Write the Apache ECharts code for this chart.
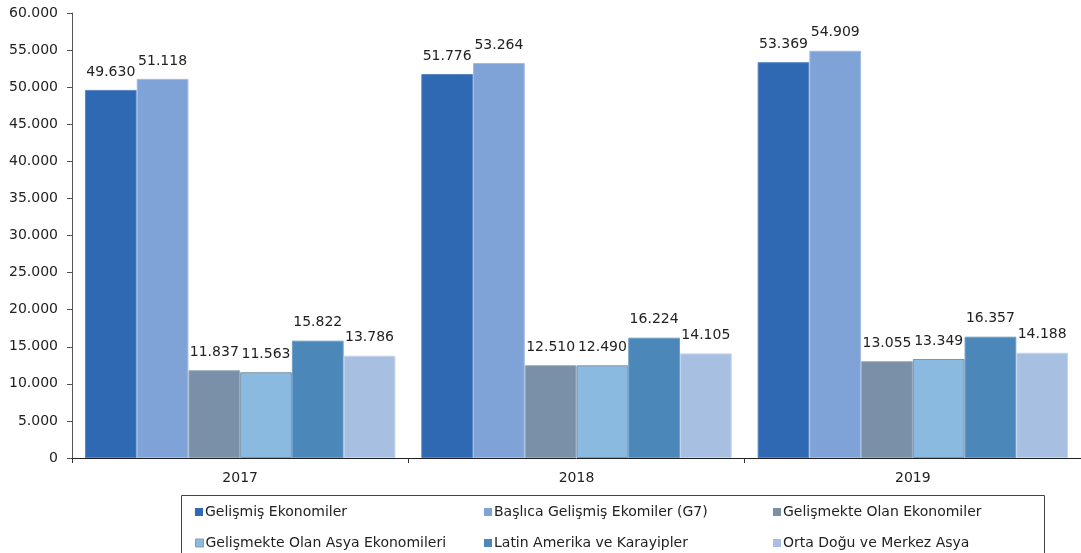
<!DOCTYPE html>
<html><head><meta charset="utf-8">
<script src="https://cdn.jsdelivr.net/npm/echarts@6/dist/echarts.min.js"></script>
<style>html,body{margin:0;padding:0;background:#fff}#c{width:1081px;height:553px}</style>
</head><body><div id="c"></div>
<script>
const categories = ['2017', '2018', '2019'];
const seriesNames = ['Gelişmiş Ekonomiler', 'Başlıca Gelişmiş Ekomiler (G7)', 'Gelişmekte Olan Ekonomiler',
  'Gelişmekte Olan Asya Ekonomileri', 'Latin Amerika ve Karayipler', 'Orta Doğu ve Merkez Asya'];
const gelismis = [49630, 51776, 53369];
const g7 = [51118, 53264, 54909];
const gelismekte = [11837, 12510, 13055];
const asya = [11563, 12490, 13349];
const latin = [15822, 16224, 16357];
const ortaDogu = [13786, 14105, 14188];
const yTicks = [0, 5000, 10000, 15000, 20000, 25000, 30000, 35000, 40000, 45000, 50000, 55000, 60000];

const values = [gelismis, g7, gelismekte, asya, latin, ortaDogu];
const colors = ['#2f69b4', '#7fa2d7', '#7a8fa8', '#8bbae1', '#4b87b9', '#a7bfe0'];
const borders = ['#5a88c6', '#a3bde3', '#9aabbf', '#7f93ab', '#6d9dc7', '#c3d4ec'];
const fmt = v => String(v).replace(/\B(?=(\d{3})+(?!\d))/g, '.');
const FONT = 'DejaVu Sans, sans-serif';

const legendPos = [[195, 505], [484, 505], [773, 505], [195, 536], [484, 536], [773, 536]];
const legends = seriesNames.map((n, i) => ({
  data: [n], left: legendPos[i][0], top: legendPos[i][1], padding: 0,
  icon: 'rect', itemWidth: 8, itemHeight: 8, itemGap: 4,
  itemStyle: i === 3 ? { borderColor: '#8a9ab0', borderWidth: 1 } : { borderWidth: 0 },
  textStyle: { fontFamily: FONT, fontSize: 14, color: '#222', padding: [0, 0, 0, -3] },
  selectedMode: false
}));

const series = seriesNames.map((n, i) => ({
  name: n, type: 'bar', data: values[i], barGap: '0%', barCategoryGap: '7.7%',
  itemStyle: { color: colors[i], borderColor: borders[i], borderWidth: 1 },
  label: { show: true, position: 'top', distance: 11, formatter: p => fmt(p.value),
    fontFamily: FONT, fontSize: 14, color: '#222' }
}));

const chart = echarts.init(document.getElementById('c'), null, { renderer: 'canvas' });
chart.setOption({
  animation: false,
  color: colors,
  grid: { left: 72, right: 0, top: 13, bottom: 95, containLabel: false },
  legend: legends,
  graphic: [{ type: 'rect', left: 179, top: 493, shape: { width: 863, height: 70 },
    style: { fill: 'none', stroke: '#444', lineWidth: 1 } }],
  xAxis: {
    type: 'category', data: categories,
    axisLine: { lineStyle: { color: '#222', width: 1 } },
    axisTick: { show: true, length: 5, lineStyle: { color: '#333' } },
    axisLabel: { fontFamily: FONT, fontSize: 14, color: '#222', margin: 13 }
  },
  yAxis: {
    type: 'value', min: yTicks[0], max: yTicks[yTicks.length - 1], interval: 5000,
    axisLine: { show: true, lineStyle: { color: '#555', width: 1 } },
    axisTick: { show: true, length: 5, lineStyle: { color: '#555' } },
    splitLine: { show: false },
    axisLabel: { fontFamily: FONT, fontSize: 14, color: '#222', margin: 14, formatter: v => fmt(v) }
  },
  series: series
});
</script></body></html>
